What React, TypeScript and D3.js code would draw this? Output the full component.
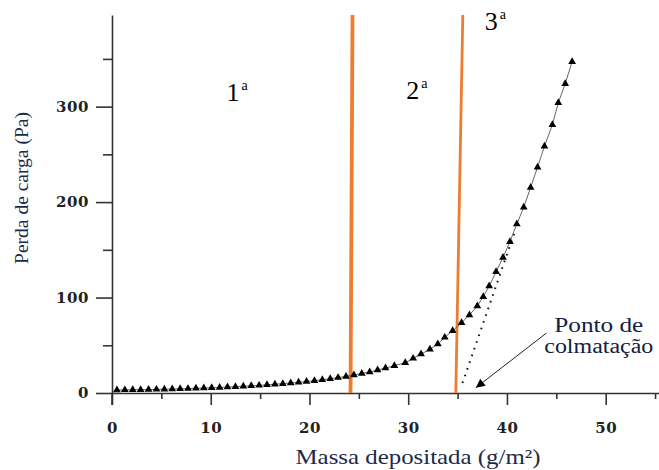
import React, { useEffect, useRef } from "react";
import * as d3 from "d3";

// massa depositada (g/m2) x perda de carga (Pa)
const massa = [
  0.5, 1.3, 2.1, 2.9, 3.7, 4.5, 5.3, 6.1, 6.9, 7.7, 8.5, 9.3, 10.1, 10.9, 11.7,
  12.5, 13.3, 14.1, 14.9, 15.7, 16.5, 17.3, 18.1, 18.9, 19.7, 20.5, 21.3, 22.1,
  22.9, 23.7, 24.5, 25.3, 26.1, 26.9, 27.7, 28.6, 29.7, 30.5, 31.3, 32.2, 33.0,
  33.7, 34.5, 35.4, 36.2, 37.0, 37.6, 38.2, 38.9, 39.6, 40.3, 41.0, 41.7, 42.4,
  43.1, 43.8, 44.6, 45.2, 45.9, 46.6,
];
const perda = [
  3.2, 3.3, 3.4, 3.5, 3.6, 3.8, 4.0, 4.2, 4.4, 4.6, 4.9, 5.2, 5.5, 5.8, 6.2,
  6.6, 7.0, 7.5, 8.0, 8.6, 9.2, 9.8, 10.5, 11.2, 12.0, 12.9, 13.9, 15.0, 16.1,
  17.4, 18.8, 20.4, 22.1, 24.0, 26.1, 28.6, 31.7, 36.3, 40.8, 45.8, 51.3, 58.3,
  65.2, 73.6, 81.7, 91.1, 100.8, 112, 127, 142, 158.4, 177, 194.5, 215.4,
  236.6, 258.5, 281, 304, 324, 347,
];

const xMajor = [0, 10, 20, 30, 40, 50];
const xMinor = [5, 15, 25, 35, 45, 55];
const yMajor = [0, 100, 200, 300];
const yMinor = [50, 150, 250, 350];

// limites das fases (linhas laranja), topo e base
const faseTopo = [24.36, 35.53];
const faseBase = [24.16, 34.82];
const faseRotulo = ["1", "2", "3"];
const faseRotuloX = [11.6, 29.8, 37.75];
const faseRotuloY = [306, 307.5, 380.8];

// reta tangente (pontilhada) e seta do ponto de colmatação
const tangenteX = [35.5, 40.8];
const tangenteY = [10.5, 169];
const setaX = [44.0, 36.85];
const setaY = [62.8, 5.5];

const W = 659;
const H = 470;

export default function App() {
  const svgRef = useRef<SVGSVGElement>(null);

  useEffect(() => {
    const svg = d3.select(svgRef.current);
    svg.selectAll("*").remove();

    const x = d3.scaleLinear().domain([0, 55.4]).range([112, 659]);
    const y = d3.scaleLinear().domain([0, 396]).range([393, 15]);
    const axisColor = "#333";
    const tickFont = "'DejaVu Serif', serif";
    const serif = "'Liberation Serif', 'Times New Roman', Times, serif";

    // eixo x: menores e maiores
    const gx = svg.append("g").attr("transform", `translate(0,${y(0)})`);
    gx.append("g")
      .call(d3.axisBottom(x).tickValues(xMinor).tickSize(6).tickFormat(() => ""))
      .call((g) => g.select(".domain").remove());
    gx.append("g")
      .call(
        d3.axisBottom(x).tickValues(xMajor).tickSize(12).tickSizeOuter(0).tickPadding(17)
          .tickFormat(d3.format("d"))
      );
    gx.selectAll("line, path").attr("stroke", axisColor).attr("stroke-width", 1.6);
    gx.selectAll("text")
      .attr("font-family", tickFont)
      .attr("font-weight", "bold")
      .attr("font-size", 15)
      .attr("letter-spacing", 0.6)
      .attr("fill", "#222");

    // eixo y
    const gy = svg.append("g").attr("transform", `translate(${x(0)},0)`);
    gy.append("g")
      .call(d3.axisLeft(y).tickValues(yMinor).tickSize(9).tickFormat(() => ""))
      .call((g) => g.select(".domain").remove());
    gy.append("g")
      .call(
        d3.axisLeft(y).tickValues(yMajor).tickSize(16).tickSizeOuter(0).tickPadding(7)
          .tickFormat(d3.format("d"))
      );
    gy.append("line")
      .attr("y1", y(0))
      .attr("y2", y(0) + 12)
      .attr("stroke", axisColor);
    gy.selectAll("line, path").attr("stroke", axisColor).attr("stroke-width", 1.6);
    gy.selectAll("text")
      .attr("font-family", tickFont)
      .attr("font-weight", "bold")
      .attr("font-size", 15)
      .attr("letter-spacing", 0.6)
      .attr("fill", "#222");

    // linhas das fases
    svg.selectAll(".fase")
      .data(faseTopo)
      .enter()
      .append("line")
      .attr("x1", (d) => x(d))
      .attr("y1", y(396))
      .attr("x2", (_, i) => x(faseBase[i]))
      .attr("y2", y(0))
      .attr("stroke", "#ED7D31")
      .attr("stroke-width", (_, i) => (i === 0 ? 3.8 : 2.8));

    // tangente pontilhada
    svg.append("line")
      .attr("x1", x(tangenteX[0]))
      .attr("y1", y(tangenteY[0]))
      .attr("x2", x(tangenteX[1]))
      .attr("y2", y(tangenteY[1]))
      .attr("stroke", "#111")
      .attr("stroke-width", 2)
      .attr("stroke-dasharray", "1.6,5.5");

    // curva
    const pts = massa.map((m, i) => [m, perda[i]] as [number, number]);
    const linha = d3.line<[number, number]>().x((d) => x(d[0])).y((d) => y(d[1]));
    svg.append("path")
      .attr("d", linha(pts))
      .attr("fill", "none")
      .attr("stroke", "#666")
      .attr("stroke-width", 1);
    const tri = d3.symbol().type(d3.symbolTriangle).size(26);
    svg.selectAll(".pt")
      .data(pts)
      .enter()
      .append("path")
      .attr("d", tri)
      .attr("transform", (d) => `translate(${x(d[0])},${y(d[1])})`)
      .attr("fill", "#000");

    // seta
    svg.append("defs")
      .append("marker")
      .attr("id", "ponta")
      .attr("viewBox", "0 0 10 10")
      .attr("refX", 10)
      .attr("refY", 5)
      .attr("markerWidth", 12)
      .attr("markerHeight", 9)
      .attr("markerUnits", "userSpaceOnUse")
      .attr("orient", "auto")
      .append("path")
      .attr("d", "M0,0 L10,5 L0,10 Z")
      .attr("fill", "#000");
    svg.append("line")
      .attr("x1", x(setaX[0]))
      .attr("y1", y(setaY[0]))
      .attr("x2", x(setaX[1]))
      .attr("y2", y(setaY[1]))
      .attr("stroke", "#222")
      .attr("stroke-width", 1)
      .attr("marker-end", "url(#ponta)");

    svg.append("text")
      .attr("x", x(49.3))
      .attr("y", y(64.2))
      .attr("text-anchor", "middle")
      .style("font-family", serif)
      .attr("font-size", 20)
      .attr("textLength", 89)
      .attr("lengthAdjust", "spacingAndGlyphs")
      .attr("fill", "#14213d")
      .text("Ponto de");
    svg.append("text")
      .attr("x", x(49.3))
      .attr("y", y(42.2))
      .attr("text-anchor", "middle")
      .style("font-family", serif)
      .attr("font-size", 20)
      .attr("textLength", 109)
      .attr("lengthAdjust", "spacingAndGlyphs")
      .attr("fill", "#14213d")
      .text("colmatação");

    // rótulos das fases
    const rot = svg.selectAll(".rot")
      .data(faseRotulo)
      .enter()
      .append("text")
      .attr("x", (_, i) => x(faseRotuloX[i]))
      .attr("y", (_, i) => y(faseRotuloY[i]))
      .style("font-family", serif)
      .attr("font-size", 26)
      .attr("fill", "#000");
    rot.append("tspan").text((d) => d);
    rot.append("tspan")
      .attr("font-size", 14)
      .attr("dx", 2)
      .attr("dy", -11)
      .text("a");

    // títulos dos eixos
    svg.append("text")
      .attr("transform", "translate(28,188) rotate(-90)")
      .attr("text-anchor", "middle")
      .style("font-family", serif)
      .attr("font-size", 19.5)
      .attr("fill", "#1c2a48")
      .text("Perda de carga (Pa)");
    svg.append("text")
      .attr("x", 418)
      .attr("y", 464)
      .attr("text-anchor", "middle")
      .style("font-family", serif)
      .attr("font-size", 22)
      .attr("textLength", 245)
      .attr("lengthAdjust", "spacingAndGlyphs")
      .attr("fill", "#1c2a48")
      .text("Massa depositada (g/m²)");
  }, []);

  return (
    <svg
      ref={svgRef}
      width={W}
      height={H}
      style={{ position: "absolute", left: 0, top: 0, background: "#fff" }}
    />
  );
}
